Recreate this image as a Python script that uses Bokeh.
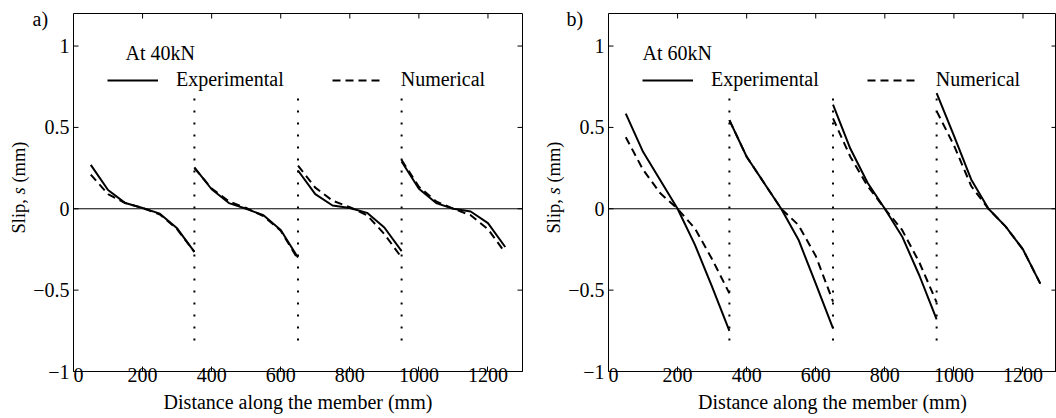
import numpy as np
from bokeh.plotting import figure
from bokeh.models import Range1d, FixedTicker, Span, Label, Legend, LegendItem
from bokeh.core.properties import value
from bokeh.layouts import row
from bokeh.embed import file_html
from bokeh.resources import INLINE

FONT = "Liberation Serif"

# ---------------- data ----------------
# distance along the member (mm) for the four instrumented segments
seg_dist = [
    [50, 100, 150, 200, 250, 300, 350],
    [350, 400, 450, 500, 550, 600, 650],
    [650, 700, 750, 800, 850, 900, 950],
    [950, 1000, 1050, 1100, 1150, 1200, 1250],
]

# slip (mm) at 40 kN
exp_40kN = [
    [0.27, 0.115, 0.035, 0.005, -0.03, -0.12, -0.265],
    [0.255, 0.12, 0.035, 0.0, -0.04, -0.13, -0.30],
    [0.235, 0.09, 0.02, 0.005, -0.025, -0.115, -0.26],
    [0.29, 0.123, 0.035, 0.0, -0.017, -0.088, -0.235],
]
num_40kN = [
    [0.21, 0.09, 0.035, 0.005, -0.035, -0.125, -0.265],
    [0.25, 0.125, 0.045, 0.005, -0.045, -0.135, -0.31],
    [0.265, 0.13, 0.05, 0.01, -0.04, -0.155, -0.30],
    [0.30, 0.135, 0.045, 0.0, -0.04, -0.125, -0.27],
]

# slip (mm) at 60 kN
exp_60kN = [
    [0.585, 0.35, 0.175, 0.0, -0.22, -0.48, -0.75],
    [0.545, 0.32, 0.16, 0.0, -0.19, -0.46, -0.735],
    [0.64, 0.37, 0.16, 0.0, -0.17, -0.41, -0.68],
    [0.71, 0.45, 0.18, 0.0, -0.11, -0.25, -0.46],
]
num_60kN = [
    [0.44, 0.24, 0.095, 0.0, -0.12, -0.31, -0.52],
    [0.545, 0.32, 0.16, 0.0, -0.10, -0.29, -0.57],
    [0.555, 0.32, 0.14, 0.0, -0.13, -0.33, -0.575],
    [0.60, 0.39, 0.14, 0.0, -0.11, -0.25, -0.46],
]

# positions of the dotted separators (mm) and their vertical extent (mm)
separator_x = [350, 650, 950]
separator_y = [-0.81, 0.68]

x_ticks = [0, 200, 400, 600, 800, 1000, 1200]
y_ticks = [-1.0, -0.5, 0.0, 0.5, 1.0]
y_tick_labels = ["\u22121", "\u22120.5", "0", "0.5", "1"]

# ---------------- layout constants ----------------
Y_MIN, Y_MAX = -1.0, 1.2
FIG_H = 418
TOP, BOTTOM = 13, 47                      # px above / below the plot box
PPU = (FIG_H - TOP - BOTTOM) / (Y_MAX - Y_MIN)   # px per mm of slip
# y range of a full-height strip whose scale matches the plot box
STRIP_Y = (Y_MIN - BOTTOM / PPU, Y_MAX + TOP / PPU)


def page_to_slip(py):
    """vertical pixel (from top of the figure) -> slip value"""
    return Y_MAX - (py - TOP) / PPU


def make_left_strip(width, label_x, tag, tag_x):
    """Full-height strip left of the box: tick labels, rotated y title and
    the panel tag, on a y scale identical to the panel's."""
    f = figure(width=width, height=FIG_H, x_range=Range1d(0, width),
               y_range=Range1d(*STRIP_Y), x_axis_type=None,
               y_axis_type=None, title=None, output_backend="svg",
               toolbar_location=None, min_border=0, frame_align=False,
               outline_line_color=None)
    f.grid.visible = False
    f.background_fill_color = "white"
    f.border_fill_color = "white"
    # y tick labels (right aligned 4 px left of the box)
    f.text(x=[width - 4] * len(y_ticks), y=y_ticks, text=y_tick_labels,
           text_font=value(FONT), text_font_size="20px", text_color="black",
           text_align="right", text_baseline="middle")
    # rotated axis title "Slip, s (mm)" with italic s
    pieces = [("Slip,", 233.0, "normal"), ("s", 193.9, "italic"),
              ("(mm)", 182.1, "normal")]
    for txt, py, style in pieces:
        f.add_layout(Label(x=label_x, y=page_to_slip(py), text=txt,
                           angle=np.pi / 2, text_font=FONT,
                           text_font_size="18.5px", text_font_style=style,
                           text_color="black", text_baseline="middle",
                           text_align="left"))
    # panel tag a) / b)
    f.add_layout(Label(x=tag_x, y=page_to_slip(18.5), text=tag,
                       text_font=FONT, text_font_size="20px",
                       text_color="black", text_baseline="alphabetic",
                       text_align="left"))
    return f


def make_panel(load_text, load_x, exp, num, width, border_right, x_end):
    p = figure(width=width, height=FIG_H,
               x_range=Range1d(0, x_end), y_range=Range1d(Y_MIN, Y_MAX),
               y_axis_type=None, title=None, frame_align=False,
               output_backend="svg", toolbar_location=None,
               min_border_left=0, min_border_right=border_right,
               min_border_top=TOP, min_border_bottom=BOTTOM)
    p.grid.visible = False
    p.background_fill_color = "white"
    p.border_fill_color = "white"
    p.outline_line_color = "black"
    p.outline_line_width = 1

    xa = p.xaxis[0]
    xa.ticker = FixedTicker(ticks=x_ticks)
    xa.major_tick_in = 5
    xa.major_tick_out = 0
    xa.minor_tick_in = 0
    xa.minor_tick_out = 0
    xa.axis_line_color = "black"
    xa.major_tick_line_color = "black"
    xa.major_label_text_font = FONT
    xa.major_label_text_color = "black"
    xa.major_label_text_font_size = "20px"
    xa.major_label_standoff = -4
    xa.axis_label = "Distance along the member (mm)"
    xa.axis_label_text_font = FONT
    xa.axis_label_text_font_size = "20px"
    xa.axis_label_text_font_style = "normal"
    xa.axis_label_text_color = "black"
    xa.axis_label_standoff = 6

    # inward tick marks on the top, left and right edges of the box
    p.ray(x=x_ticks, y=[Y_MAX] * len(x_ticks), length=5,
          length_units="screen", angle=-np.pi / 2, line_color="black",
          line_width=1)
    p.ray(x=[0] * len(y_ticks), y=y_ticks, length=5,
          length_units="screen", angle=0, line_color="black", line_width=1)
    p.ray(x=[x_end] * len(y_ticks), y=y_ticks, length=5,
          length_units="screen", angle=np.pi, line_color="black",
          line_width=1)

    p.add_layout(Span(location=0, dimension="width", line_color="black",
                      line_width=1))

    p.segment(x0=separator_x, x1=separator_x,
              y0=[separator_y[0]] * len(separator_x),
              y1=[separator_y[1]] * len(separator_x),
              line_color="black", line_width=2, line_dash="2 10")

    r_exp = p.multi_line(xs=seg_dist, ys=exp, line_color="black",
                         line_width=2)
    r_num = p.multi_line(xs=seg_dist, ys=num, line_color="black",
                         line_width=2, line_dash="8 5")

    legend = Legend(items=[LegendItem(label="Experimental", renderers=[r_exp]),
                           LegendItem(label="Numerical", renderers=[r_num])],
                    orientation="horizontal", location=(34, 280),
                    glyph_width=51, glyph_height=22, label_height=22,
                    label_standoff=18, spacing=48, padding=0, margin=0,
                    border_line_color=None, background_fill_alpha=0,
                    label_text_font=FONT, label_text_font_size="20px",
                    label_text_color="black")
    p.add_layout(legend)

    p.add_layout(Label(x=load_x, x_units="screen", y=0.955, text=load_text,
                       text_font=FONT, text_font_size="20px",
                       text_color="black", text_baseline="alphabetic"))
    return p


p1 = make_panel("At 40kN", 52, exp_40kN, num_40kN,
                width=459, border_right=10, x_end=1300)
p2 = make_panel("At 60kN", 34, exp_60kN, num_60kN,
                width=448, border_right=0, x_end=1297)
strip1 = make_left_strip(73, 18.5, "a)", 32)
strip2 = make_left_strip(76, 21.0, "b)", 34)

layout = row(strip1, p1, strip2, p2)
open("out.html", "w").write(file_html(layout, INLINE))
